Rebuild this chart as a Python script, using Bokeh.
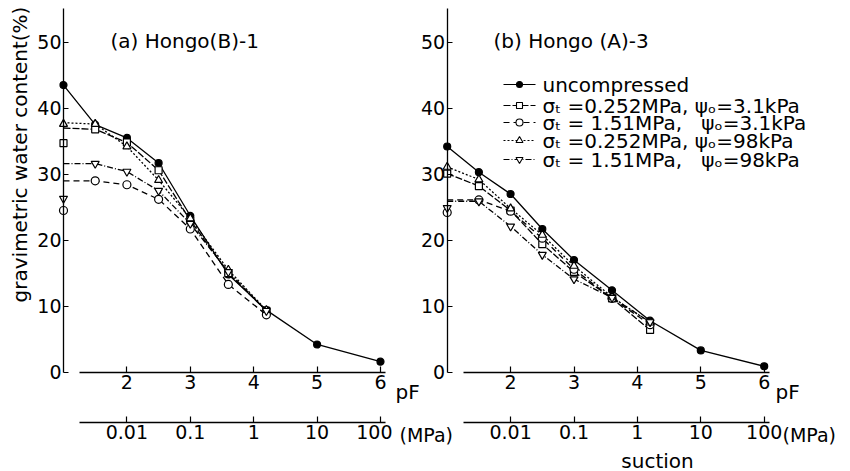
import math
from bokeh.plotting import figure
from bokeh.models import Range1d, LinearAxis, FixedTicker
from bokeh.layouts import row
from bokeh.embed import file_html
from bokeh.resources import INLINE
from bokeh.core.properties import value

FONT = "DejaVu Sans"

# ---------------- data ----------------
pf_ticks = [2, 3, 4, 5, 6]
y_ticks = [0, 10, 20, 30, 40, 50]
mpa_ticks = [0.01, 0.1, 1, 10, 100]
mpa_labels = ["0.01", "0.1", "1", "10", "100"]

pf_unc = [1.5, 2, 2.5, 3, 3.6, 4.2, 5, 6]   # pF of uncompressed points
pf_cmp = [1.5, 2, 2.5, 3, 3.6, 4.2]         # pF of compressed points
pf_sat = 1.0                                 # saturated points (on the axis)

series_names = [
    "uncompressed",
    "σₜ =0.252MPa, ψₒ=3.1kPa",
    "σₜ = 1.51MPa,\u00a0\u00a0 ψₒ=3.1kPa",
    "σₜ =0.252MPa, ψₒ=98kPa",
    "σₜ = 1.51MPa,\u00a0\u00a0 ψₒ=98kPa",
]

# panel (a) Hongo(B)-1
a_unc = [37.5, 35.5, 31.7, 23.7, 14.8, 9.4, 4.2, 1.6]
a_sq = [36.8, 34.8, 30.6, 23.0, 15.0, 9.3]
a_ci = [29.0, 28.4, 26.2, 21.7, 13.3, 8.7]
a_tr = [37.6, 34.2, 29.1, 23.3, 15.5, 9.4]
a_it = [31.6, 30.4, 27.5, 22.5, 15.2, 9.3]
a_sat = [43.5, 34.7, 24.5, 37.6, 26.3]     # value marked on the axis
a_start = [43.5, 37.0, 29.0, 37.8, 31.6]   # value where each line leaves the axis

# panel (b) Hongo (A)-3
b_unc = [30.3, 27.0, 21.7, 17.0, 12.4, 7.8, 3.3, 0.9]
b_sq = [28.2, 24.5, 19.4, 15.2, 11.2, 6.4]
b_ci = [26.1, 24.4, 20.3, 15.6, 11.2, 7.2]
b_tr = [29.2, 24.8, 20.8, 16.1, 11.4, 7.5]
b_it = [25.9, 22.1, 17.8, 14.1, 11.3, 7.6]
b_sat = [34.2, 30.1, 24.2, 31.1, 24.9]
b_start = [34.2, 30.1, 26.1, 31.1, 25.9]

# ---------------- styles / layout ----------------
styles = [
    dict(marker="circle", fill="black", dash="solid", size=7),
    dict(marker="square", fill="white", dash="7 2", size=7),
    dict(marker="circle", fill="white", dash="6 4", size=8),
    dict(marker="triangle", fill="white", dash="2 2", size=8),
    dict(marker="inverted_triangle", fill="white", dash="6 2 1 2", size=8),
]

PX_PF = 63.4      # pixels per pF unit
PX_Y = 6.6        # pixels per % unit
H = 471
Y0_IMG = 371.7    # canvas y of value 0
Y_TOP = Y0_IMG / PX_Y
Y_BOT = -(H - Y0_IMG) / PX_Y
Y_AXIS_TOP = (Y0_IMG - 8) / PX_Y
MPA_AXIS_Y = -(421.7 - Y0_IMG) / PX_Y
AX_BOUNDS = (1.26, 6.08)

L_LEFT, L_PF1, L_W = 0, 63, 392
R_LEFT, R_PF1, R_W = 392, 446.7, 458


def make_fig(width, img_left, img_pf1):
    x0 = 1 - (img_pf1 - img_left) / PX_PF
    x1 = x0 + width / PX_PF
    p = figure(width=width, height=H, x_range=Range1d(x0, x1), y_range=Range1d(Y_BOT, Y_TOP),
               x_axis_type=None, y_axis_type=None, toolbar_location=None,
               output_backend="svg", min_border_left=0, min_border_right=0,
               min_border_top=0, min_border_bottom=0, outline_line_color=None)
    p.grid.visible = False
    p.background_fill_color = "white"
    p.border_fill_color = "white"

    yax = LinearAxis(fixed_location=1.0, ticker=FixedTicker(ticks=y_ticks), bounds=(0, Y_AXIS_TOP))
    xax = LinearAxis(fixed_location=0, ticker=FixedTicker(ticks=pf_ticks), bounds=AX_BOUNDS)
    mpa_pos = [math.log10(m) + 4 for m in mpa_ticks]
    max_ = LinearAxis(fixed_location=MPA_AXIS_Y, ticker=FixedTicker(ticks=mpa_pos), bounds=AX_BOUNDS,
                      major_label_overrides={pos: lab for pos, lab in zip(mpa_pos, mpa_labels)})
    for ax in (yax, xax, max_):
        ax.axis_line_color = "black"
        ax.axis_line_width = 1.3
        ax.major_tick_line_color = "black"
        ax.major_tick_line_width = 1.2
        ax.minor_tick_line_color = None
        ax.major_tick_out = 0
        ax.major_tick_in = 6
        ax.major_label_text_font = FONT
        ax.major_label_text_font_size = "19px"
        ax.major_label_text_color = "black"
        ax.major_label_standoff = 3
    yax.major_tick_in = 5
    yax.major_label_standoff = 2
    p.add_layout(yax, "left")
    p.add_layout(xax, "below")
    p.add_layout(max_, "below")
    return p


def to_data(img_pf1, ix, iy):
    return 1 + (ix - img_pf1) / PX_PF, (Y0_IMG - iy) / PX_Y


def add_text(p, img_pf1, ix, iy, text, align="left", size="20px", angle=0.0):
    x, y = to_data(img_pf1, ix, iy)
    p.text([x], [y], text=[text], text_font=value(FONT), text_font_size=value(size),
           text_align=align, text_baseline="middle", text_color="black", angle=angle)


def draw_series(p, vals_list, sat, start):
    for i, vals in enumerate(vals_list):
        st = styles[i]
        xs = pf_unc if i == 0 else pf_cmp
        p.line([pf_sat] + xs, [start[i]] + vals, line_color="black", line_width=1.3,
               line_dash=st["dash"])
    for i, vals in enumerate(vals_list):
        st = styles[i]
        xs = pf_unc if i == 0 else pf_cmp
        p.scatter(xs + [pf_sat], vals + [sat[i]], marker=st["marker"], size=st["size"],
                  fill_color=st["fill"], line_color="black", line_width=1.2)


# ---- left panel (a) ----
p1 = make_fig(L_W, L_LEFT, L_PF1)
draw_series(p1, [a_unc, a_sq, a_ci, a_tr, a_it], a_sat, a_start)
add_text(p1, L_PF1, 110, 40, "(a) Hongo(B)-1")
add_text(p1, L_PF1, 19, 154, "gravimetric water content(%)", align="center", angle=math.pi / 2)

# ---- right panel (b) ----
p2 = make_fig(R_W, R_LEFT, R_PF1)
draw_series(p2, [b_unc, b_sq, b_ci, b_tr, b_it], b_sat, b_start)
add_text(p2, R_PF1, 493, 40, "(b) Hongo (A)-3")

# legend (drawn)
leg_rows_img = [84, 105, 122, 140, 159]
for i, name in enumerate(series_names):
    st = styles[i]
    xa, y = to_data(R_PF1, 503, leg_rows_img[i])
    xb, _ = to_data(R_PF1, 535, leg_rows_img[i])
    xm, _ = to_data(R_PF1, 519, leg_rows_img[i])
    p2.line([xa, xb], [y, y], line_color="black", line_width=1.2, line_dash=st["dash"])
    p2.scatter([xm], [y], marker=st["marker"], size=st["size"] - 1, fill_color=st["fill"],
               line_color="black", line_width=1.1)
    add_text(p2, R_PF1, 542, leg_rows_img[i], name, size="20px")

# unit labels (left panel's ones sit at the start of the right canvas)
add_text(p2, R_PF1, 395, 391, "pF")
add_text(p2, R_PF1, 399, 434, "(MPa)", size="19px")
add_text(p2, R_PF1, 775, 391, "pF")
add_text(p2, R_PF1, 782, 434, "(MPa)", size="19px")
add_text(p2, R_PF1, 657, 460, "suction", align="center")

layout = row(p1, p2)
open("out.html", "w").write(file_html(layout, INLINE))
